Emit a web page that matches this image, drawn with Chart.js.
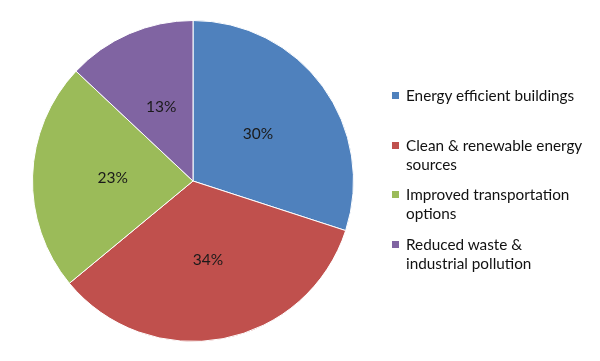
<!DOCTYPE html>
<html>
<head>
<meta charset="utf-8">
<script src="https://cdn.jsdelivr.net/npm/chart.js@4.4.0/dist/chart.umd.min.js"></script>
<style>
  body { margin: 0; background: #fff; }
  #wrap { position: relative; width: 600px; height: 361px; }
  #legend { position: absolute; left: 392px; top: 86px; margin: 0; padding: 0; list-style: none;
            font-family: Lato, "Open Sans", sans-serif; font-size: 15.3px; line-height: 19px; color: #111; }
  #legend li { position: relative; height: 49.5px; padding-left: 14px; width: 176px; }
  #legend span { position: absolute; left: 0; top: 6px; width: 7px; height: 7px; }
</style>
</head>
<body>
<div id="wrap">
  <canvas id="myChart" width="600" height="361"></canvas>
  <ul id="legend"></ul>
</div>
<script>
var categories = ["Energy efficient buildings", "Clean & renewable energy sources", "Improved transportation options", "Reduced waste & industrial pollution"];
var shares = [30, 34, 23, 13];
var colors = ["#4F81BD", "#C0504D", "#9BBB59", "#8064A2"];

// percent labels in the middle of each slice
var sliceLabels = {
    id: 'sliceLabels',
    afterDatasetsDraw: function(chart) {
        var ctx = chart.ctx;
        var meta = chart.getDatasetMeta(0);
        ctx.save();
        ctx.font = '15.5px Lato, "Open Sans", sans-serif';
        ctx.fillStyle = '#1a1a1a';
        ctx.textAlign = 'center';
        ctx.textBaseline = 'middle';
        meta.data.forEach(function(arc, i) {
            var p = arc.getCenterPoint();
            ctx.fillText(shares[i] + '%', p.x, p.y);
        });
        ctx.restore();
    }
};

var chart = new Chart(document.getElementById('myChart').getContext('2d'), {
    type: 'pie',
    data: {
        labels: categories,
        datasets: [{
            data: shares,
            backgroundColor: colors,
            borderColor: '#ffffff',
            borderWidth: 1
        }]
    },
    options: {
        responsive: false,
        animation: false,
        layout: { padding: { left: 32, top: 20, right: 246, bottom: 19 } },
        plugins: {
            legend: { display: false },
            tooltip: { enabled: false }
        }
    },
    plugins: [sliceLabels]
});

// legend built from the chart data
var legend = document.getElementById('legend');
for (var i = 0; i < categories.length; i++) {
    var li = document.createElement('li');
    var box = document.createElement('span');
    box.style.background = colors[i];
    li.appendChild(box);
    li.appendChild(document.createTextNode(categories[i]));
    legend.appendChild(li);
}
</script>
</body>
</html>
